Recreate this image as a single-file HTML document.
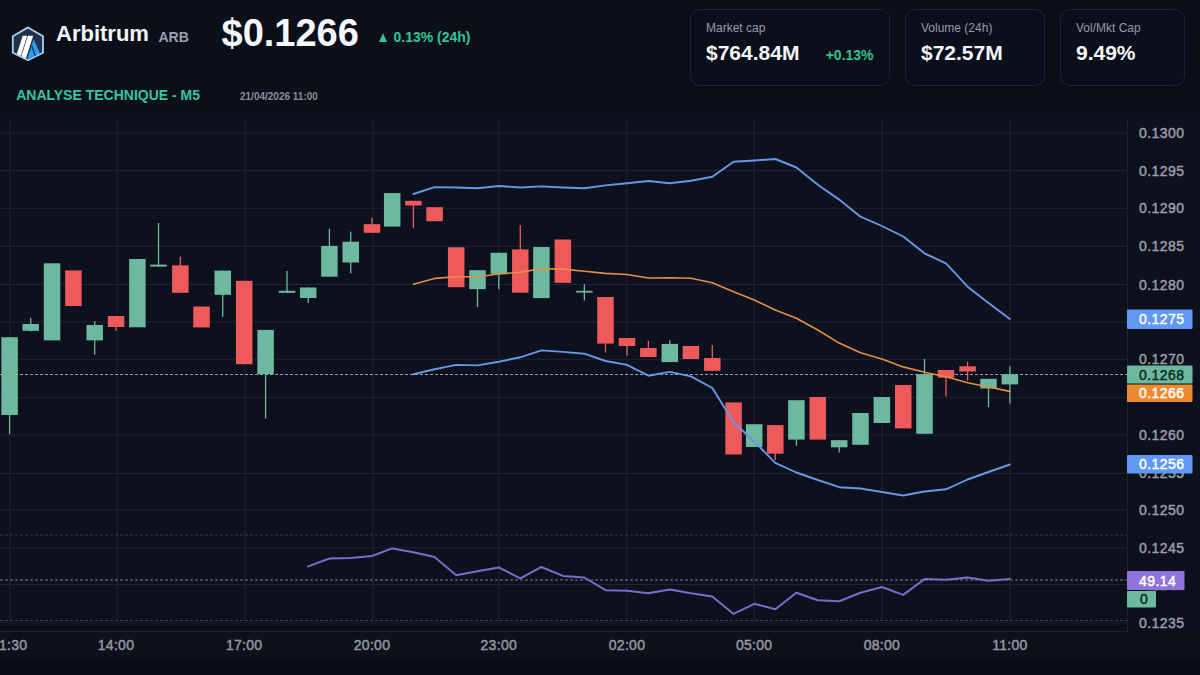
<!DOCTYPE html>
<html><head><meta charset="utf-8">
<style>
html,body{margin:0;padding:0;}
body{width:1200px;height:675px;overflow:hidden;background:#0a0f1a;position:relative;font-family:"Liberation Sans",sans-serif;}
.abs{position:absolute;white-space:nowrap;line-height:1;}
svg text.ax{font-family:"Liberation Sans",sans-serif;font-size:14px;fill:#9a9ea8;letter-spacing:0.45px;stroke:#9a9ea8;stroke-width:0.45px;}
svg text.tm{font-family:"Liberation Sans",sans-serif;font-size:14px;fill:#9599a3;letter-spacing:0.3px;stroke:#9599a3;stroke-width:0.45px;}
.card{position:absolute;top:9px;height:77px;border:1px solid #1f2533;border-radius:10px;box-sizing:border-box;background:#0b0f1b;}
.lbl{position:absolute;left:15px;top:11.1px;font-size:12px;color:#959aa5;}
.val{position:absolute;left:15px;top:31px;font-size:21px;font-weight:bold;color:#f4f6fa;}
</style></head><body>
<svg width="1200" height="675" style="position:absolute;left:0;top:0">
<rect x="0" y="112" width="1200" height="519.5" fill="#0c111d"/>
<rect x="0" y="631.5" width="1200" height="43.5" fill="#0c111c"/>
<rect x="0" y="659" width="1200" height="16" fill="#090d16"/>
<line x1="9.8" y1="119" x2="9.8" y2="621" stroke="#1f2533" stroke-width="1"/>
<line x1="117.2" y1="119" x2="117.2" y2="621" stroke="#1f2533" stroke-width="1"/>
<line x1="245" y1="119" x2="245" y2="621" stroke="#1f2533" stroke-width="1"/>
<line x1="372.8" y1="119" x2="372.8" y2="621" stroke="#1f2533" stroke-width="1"/>
<line x1="499" y1="119" x2="499" y2="621" stroke="#1f2533" stroke-width="1"/>
<line x1="626.8" y1="119" x2="626.8" y2="621" stroke="#1f2533" stroke-width="1"/>
<line x1="754.2" y1="119" x2="754.2" y2="621" stroke="#1f2533" stroke-width="1"/>
<line x1="881.9" y1="119" x2="881.9" y2="621" stroke="#1f2533" stroke-width="1"/>
<line x1="1010.1" y1="119" x2="1010.1" y2="621" stroke="#1f2533" stroke-width="1"/>
<line x1="0" y1="133.0" x2="1127.5" y2="133.0" stroke="#1f2533" stroke-width="1"/>
<line x1="0" y1="170.5" x2="1127.5" y2="170.5" stroke="#1f2533" stroke-width="1"/>
<line x1="0" y1="208.3" x2="1127.5" y2="208.3" stroke="#1f2533" stroke-width="1"/>
<line x1="0" y1="246.2" x2="1127.5" y2="246.2" stroke="#1f2533" stroke-width="1"/>
<line x1="0" y1="284.5" x2="1127.5" y2="284.5" stroke="#1f2533" stroke-width="1"/>
<line x1="0" y1="322.0" x2="1127.5" y2="322.0" stroke="#1f2533" stroke-width="1"/>
<line x1="0" y1="359.3" x2="1127.5" y2="359.3" stroke="#1f2533" stroke-width="1"/>
<line x1="0" y1="397.4" x2="1127.5" y2="397.4" stroke="#1f2533" stroke-width="1"/>
<line x1="0" y1="435.0" x2="1127.5" y2="435.0" stroke="#1f2533" stroke-width="1"/>
<line x1="0" y1="473.4" x2="1127.5" y2="473.4" stroke="#1f2533" stroke-width="1"/>
<line x1="0" y1="510.0" x2="1127.5" y2="510.0" stroke="#1f2533" stroke-width="1"/>
<line x1="0" y1="548.0" x2="1127.5" y2="548.0" stroke="#1f2533" stroke-width="1"/>
<line x1="0" y1="584.5" x2="1127.5" y2="584.5" stroke="#1f2533" stroke-width="1"/>
<line x1="0" y1="623.0" x2="1127.5" y2="623.0" stroke="#1f2533" stroke-width="1"/>
<rect x="0" y="623.5" width="1127.5" height="7.5" fill="#0a0e17"/>
<line x1="0" y1="535" x2="1127.5" y2="535" stroke="#343946" stroke-width="1" stroke-dasharray="3 2"/>
<line x1="0" y1="620.5" x2="1127.5" y2="620.5" stroke="#3c4150" stroke-width="1" stroke-dasharray="3 2"/>
<line x1="0" y1="580" x2="1127.5" y2="580" stroke="#77729f" stroke-width="1" stroke-dasharray="3 2"/>
<line x1="0" y1="374.5" x2="1127.5" y2="374.5" stroke="#95a3a6" stroke-width="1" stroke-dasharray="3 2"/>
<rect x="8.95" y="337.2" width="1.3" height="96.8" fill="#6cb9a0"/>
<rect x="1.35" y="337.2" width="16.5" height="77.8" fill="#6cb9a0"/>
<rect x="30.05" y="318.0" width="1.3" height="13.5" fill="#6cb9a0"/>
<rect x="22.45" y="324.0" width="16.5" height="6.8" fill="#6cb9a0"/>
<rect x="43.80" y="263.3" width="16.5" height="77.1" fill="#6cb9a0"/>
<rect x="65.15" y="270.4" width="16.5" height="35.6" fill="#ee5a5c"/>
<rect x="94.05" y="321.0" width="1.3" height="33.6" fill="#6cb9a0"/>
<rect x="86.45" y="325.0" width="16.5" height="15.4" fill="#6cb9a0"/>
<rect x="115.40" y="316.0" width="1.3" height="15.0" fill="#ee5a5c"/>
<rect x="107.80" y="316.0" width="16.5" height="11.0" fill="#ee5a5c"/>
<rect x="129.15" y="259.0" width="16.5" height="68.3" fill="#6cb9a0"/>
<rect x="157.85" y="223.0" width="1.3" height="43.6" fill="#6cb9a0"/>
<rect x="150.25" y="264.6" width="16.5" height="2.0" fill="#6cb9a0"/>
<rect x="179.70" y="256.6" width="1.3" height="36.2" fill="#ee5a5c"/>
<rect x="172.10" y="265.4" width="16.5" height="27.4" fill="#ee5a5c"/>
<rect x="193.30" y="306.5" width="16.5" height="20.9" fill="#ee5a5c"/>
<rect x="222.10" y="270.6" width="1.3" height="46.4" fill="#6cb9a0"/>
<rect x="214.50" y="270.6" width="16.5" height="24.2" fill="#6cb9a0"/>
<rect x="235.95" y="280.8" width="16.5" height="83.4" fill="#ee5a5c"/>
<rect x="264.95" y="329.9" width="1.3" height="88.7" fill="#6cb9a0"/>
<rect x="257.35" y="329.9" width="16.5" height="44.3" fill="#6cb9a0"/>
<rect x="286.35" y="271.0" width="1.3" height="21.8" fill="#6cb9a0"/>
<rect x="278.75" y="290.8" width="16.5" height="2.0" fill="#6cb9a0"/>
<rect x="307.55" y="287.5" width="1.3" height="15.5" fill="#6cb9a0"/>
<rect x="299.95" y="287.5" width="16.5" height="10.5" fill="#6cb9a0"/>
<rect x="328.75" y="228.6" width="1.3" height="48.1" fill="#6cb9a0"/>
<rect x="321.15" y="245.9" width="16.5" height="30.8" fill="#6cb9a0"/>
<rect x="350.10" y="231.7" width="1.3" height="41.6" fill="#6cb9a0"/>
<rect x="342.50" y="241.7" width="16.5" height="20.8" fill="#6cb9a0"/>
<rect x="371.35" y="217.5" width="1.3" height="15.3" fill="#ee5a5c"/>
<rect x="363.75" y="224.2" width="16.5" height="8.6" fill="#ee5a5c"/>
<rect x="383.95" y="193.1" width="16.5" height="33.5" fill="#6cb9a0"/>
<rect x="412.75" y="200.8" width="1.3" height="27.0" fill="#ee5a5c"/>
<rect x="405.15" y="200.8" width="16.5" height="4.7" fill="#ee5a5c"/>
<rect x="426.35" y="207.2" width="16.5" height="14.0" fill="#ee5a5c"/>
<rect x="447.95" y="247.3" width="16.5" height="39.9" fill="#ee5a5c"/>
<rect x="476.85" y="270.2" width="1.3" height="36.8" fill="#6cb9a0"/>
<rect x="469.25" y="270.2" width="16.5" height="19.0" fill="#6cb9a0"/>
<rect x="498.15" y="252.8" width="1.3" height="36.4" fill="#6cb9a0"/>
<rect x="490.55" y="252.8" width="16.5" height="21.1" fill="#6cb9a0"/>
<rect x="519.65" y="225.2" width="1.3" height="67.5" fill="#ee5a5c"/>
<rect x="512.05" y="249.4" width="16.5" height="43.3" fill="#ee5a5c"/>
<rect x="533.15" y="247.0" width="16.5" height="51.1" fill="#6cb9a0"/>
<rect x="554.60" y="239.5" width="16.5" height="43.3" fill="#ee5a5c"/>
<rect x="583.70" y="284.0" width="1.3" height="16.5" fill="#6cb9a0"/>
<rect x="576.10" y="290.8" width="16.5" height="1.8" fill="#6cb9a0"/>
<rect x="604.85" y="297.0" width="1.3" height="55.5" fill="#ee5a5c"/>
<rect x="597.25" y="297.0" width="16.5" height="46.6" fill="#ee5a5c"/>
<rect x="626.35" y="338.0" width="1.3" height="17.7" fill="#ee5a5c"/>
<rect x="618.75" y="338.0" width="16.5" height="8.0" fill="#ee5a5c"/>
<rect x="647.70" y="340.8" width="1.3" height="16.2" fill="#ee5a5c"/>
<rect x="640.10" y="348.0" width="16.5" height="9.0" fill="#ee5a5c"/>
<rect x="669.15" y="340.3" width="1.3" height="21.8" fill="#6cb9a0"/>
<rect x="661.55" y="343.9" width="16.5" height="18.2" fill="#6cb9a0"/>
<rect x="682.65" y="346.0" width="16.5" height="13.0" fill="#ee5a5c"/>
<rect x="711.65" y="345.0" width="1.3" height="25.8" fill="#ee5a5c"/>
<rect x="704.05" y="358.0" width="16.5" height="12.8" fill="#ee5a5c"/>
<rect x="725.35" y="402.4" width="16.5" height="52.1" fill="#ee5a5c"/>
<rect x="745.95" y="424.2" width="16.5" height="22.8" fill="#6cb9a0"/>
<rect x="774.65" y="425.1" width="1.3" height="34.9" fill="#ee5a5c"/>
<rect x="767.05" y="425.1" width="16.5" height="28.6" fill="#ee5a5c"/>
<rect x="795.75" y="400.2" width="1.3" height="45.6" fill="#6cb9a0"/>
<rect x="788.15" y="400.2" width="16.5" height="39.4" fill="#6cb9a0"/>
<rect x="809.55" y="397.0" width="16.5" height="42.6" fill="#ee5a5c"/>
<rect x="838.55" y="440.2" width="1.3" height="12.3" fill="#6cb9a0"/>
<rect x="830.95" y="440.2" width="16.5" height="7.1" fill="#6cb9a0"/>
<rect x="852.25" y="413.0" width="16.5" height="31.8" fill="#6cb9a0"/>
<rect x="873.65" y="397.0" width="16.5" height="26.0" fill="#6cb9a0"/>
<rect x="895.00" y="385.0" width="16.5" height="43.4" fill="#ee5a5c"/>
<rect x="923.85" y="359.0" width="1.3" height="74.8" fill="#6cb9a0"/>
<rect x="916.25" y="374.2" width="16.5" height="59.6" fill="#6cb9a0"/>
<rect x="945.35" y="370.0" width="1.3" height="26.4" fill="#ee5a5c"/>
<rect x="937.75" y="370.0" width="16.5" height="7.7" fill="#ee5a5c"/>
<rect x="966.95" y="361.5" width="1.3" height="19.3" fill="#ee5a5c"/>
<rect x="959.35" y="366.3" width="16.5" height="5.2" fill="#ee5a5c"/>
<rect x="987.85" y="378.8" width="1.3" height="28.4" fill="#6cb9a0"/>
<rect x="980.25" y="378.8" width="16.5" height="9.7" fill="#6cb9a0"/>
<rect x="1009.25" y="366.3" width="1.3" height="37.4" fill="#6cb9a0"/>
<rect x="1001.65" y="374.2" width="16.5" height="10.2" fill="#6cb9a0"/>
<polyline points="413.4,194.0 434.6,187.1 456.2,187.5 477.5,188.2 498.8,186.0 520.3,187.5 541.4,186.4 562.9,187.5 584.4,188.2 605.5,185.4 627.0,183.2 648.4,181.0 669.8,183.3 690.9,180.7 712.3,176.7 733.6,161.7 754.2,160.5 775.3,159.0 796.4,167.5 817.8,184.8 839.2,199.6 860.5,216.7 881.9,226.0 903.2,236.5 924.5,253.3 946.0,263.3 967.6,286.7 988.5,303.0 1009.9,319.0" fill="none" stroke="#6797e6" stroke-width="1.9" stroke-linejoin="round" stroke-linecap="round"/>
<polyline points="413.4,284.3 434.6,278.4 456.2,276.7 477.5,276.7 498.8,274.0 520.3,272.3 541.4,268.7 562.9,269.1 584.4,271.3 605.5,273.4 627.0,274.5 648.4,278.0 669.8,277.7 690.9,278.3 712.3,282.7 733.6,291.7 754.2,300.0 775.3,310.0 796.4,318.2 817.8,330.0 839.2,343.1 860.5,352.8 881.9,358.9 903.2,366.9 924.5,372.3 946.0,376.7 967.6,382.7 988.5,387.0 1009.9,391.4" fill="none" stroke="#e28f45" stroke-width="1.6" stroke-linejoin="round" stroke-linecap="round"/>
<polyline points="413.4,374.2 434.6,369.3 456.2,364.9 477.5,365.4 498.8,361.7 520.3,357.3 541.4,350.4 562.9,351.9 584.4,353.7 605.5,361.0 627.0,364.9 648.4,375.7 669.8,371.9 690.9,376.4 712.3,388.0 733.6,422.3 754.2,441.5 775.3,462.8 796.4,472.5 817.8,480.0 839.2,487.2 860.5,488.5 881.9,492.0 903.2,495.5 924.5,491.5 946.0,489.3 967.6,479.5 988.5,472.0 1009.9,464.5" fill="none" stroke="#6797e6" stroke-width="1.9" stroke-linejoin="round" stroke-linecap="round"/>
<polyline points="308.2,566.4 329.4,558.5 350.8,557.9 372.0,556.0 392.2,548.4 413.4,552.2 434.6,556.9 456.2,575.3 477.5,571.2 498.8,567.4 520.3,578.4 541.4,567.0 562.9,575.9 584.4,577.5 605.5,590.2 627.0,590.8 648.4,593.3 669.8,589.5 690.9,593.3 712.3,596.5 733.6,613.9 754.2,603.8 775.3,609.2 796.4,592.7 817.8,600.3 839.2,601.2 860.5,592.7 881.9,587.0 903.2,594.9 924.5,579.1 946.0,579.7 967.6,577.5 988.5,580.7 1009.9,579.1" fill="none" stroke="#7b6bcb" stroke-width="2" stroke-linejoin="round" stroke-linecap="round"/>
<line x1="1127.5" y1="119" x2="1127.5" y2="631.5" stroke="#1b202c" stroke-width="1"/>
<line x1="0" y1="631.5" x2="1127.5" y2="631.5" stroke="#1e2330" stroke-width="1.2"/>
<text x="1139" y="138.0" class="ax">0.1300</text>
<text x="1139" y="175.5" class="ax">0.1295</text>
<text x="1139" y="213.3" class="ax">0.1290</text>
<text x="1139" y="251.2" class="ax">0.1285</text>
<text x="1139" y="289.5" class="ax">0.1280</text>
<text x="1139" y="327.0" class="ax">0.1275</text>
<text x="1139" y="364.3" class="ax">0.1270</text>
<text x="1139" y="440.0" class="ax">0.1260</text>
<text x="1139" y="478.4" class="ax">0.1255</text>
<text x="1139" y="515.0" class="ax">0.1250</text>
<text x="1139" y="553.0" class="ax">0.1245</text>
<text x="1139" y="589.5" class="ax">0.1240</text>
<text x="1139" y="628.0" class="ax">0.1235</text>
<rect x="1127" y="309.5" width="65.5" height="19.5" fill="#6098f4" rx="1"/><text x="1139" y="324.2" class="ax" style="fill:#ffffff;stroke:#ffffff">0.1275</text>
<rect x="1127" y="365.5" width="65.5" height="18.0" fill="#6cb9a0" rx="1"/><text x="1139" y="379.5" class="ax" style="fill:#0d2a20;stroke:#0d2a20">0.1268</text>
<rect x="1127" y="384.5" width="65.5" height="17.5" fill="#ee8a2e" rx="1"/><text x="1139" y="398.2" class="ax" style="fill:#ffffff;stroke:#ffffff">0.1266</text>
<rect x="1127" y="455" width="65.5" height="18.5" fill="#6098f4" rx="1"/><text x="1139" y="469.2" class="ax" style="fill:#ffffff;stroke:#ffffff">0.1256</text>
<rect x="1127" y="571" width="57.5" height="19" fill="#8f73d8" rx="1"/><text x="1139" y="585.5" class="ax" style="fill:#ffffff;stroke:#ffffff">49.14</text>
<rect x="1127" y="591" width="29" height="16.5" fill="#6cb9a0" rx="1"/><text x="1140" y="604.2" class="ax" style="fill:#0d2a20;stroke:#0d2a20">0</text>
<text x="9.6" y="650.2" class="tm" text-anchor="middle">11:30</text>
<text x="116.0" y="650.2" class="tm" text-anchor="middle">14:00</text>
<text x="244.2" y="650.2" class="tm" text-anchor="middle">17:00</text>
<text x="372.0" y="650.2" class="tm" text-anchor="middle">20:00</text>
<text x="498.8" y="650.2" class="tm" text-anchor="middle">23:00</text>
<text x="627.0" y="650.2" class="tm" text-anchor="middle">02:00</text>
<text x="754.2" y="650.2" class="tm" text-anchor="middle">05:00</text>
<text x="881.9" y="650.2" class="tm" text-anchor="middle">08:00</text>
<text x="1009.9" y="650.2" class="tm" text-anchor="middle">11:00</text>
</svg>
<svg width="40" height="40" viewBox="0 0 40 40" style="position:absolute;left:8px;top:23.5px">
<defs><clipPath id="hx"><polygon points="20,4.2 34.2,12.7 34.2,28.3 20,35.4 5.6,28.3 5.6,12.7"/></clipPath></defs>
<polygon points="20,3.4 35,12.3 35,28.7 20,36.2 4.8,28.7 4.8,12.3" fill="#223147" stroke="#a5d2f0" stroke-width="1.8" stroke-linejoin="round"/>
<g clip-path="url(#hx)">
<polygon points="14.7,11.8 19.2,11.8 11.2,36.8 6.7,36.8" fill="#ffffff"/>
<polygon points="19.9,11.8 25.2,11.8 17.2,36.8 11.9,36.8" fill="#ffffff"/>
<polygon points="25.6,15.2 34,33.5 22,40 17.6,40 18.6,37.5" fill="#28a0f0"/>
<line x1="23.6" y1="21.5" x2="28.8" y2="36" stroke="#223147" stroke-width="1.3"/>
</g>
</svg>
<div class="abs" style="left:56px;top:23.2px;font-size:22px;font-weight:bold;color:#f4f6fa;">Arbitrum</div>
<div class="abs" style="left:158.5px;top:30px;font-size:14px;font-weight:bold;color:#9aa0ae;">ARB</div>
<div class="abs" style="left:221.5px;top:13.8px;font-size:38px;font-weight:bold;color:#f6f7fa;">$0.1266</div>
<div class="abs" style="left:393.5px;top:29.6px;font-size:14px;font-weight:bold;color:#33c497;">0.13% (24h)</div><div class="abs" style="left:378.7px;top:32.8px;width:0;height:0;border-left:4.6px solid transparent;border-right:4.6px solid transparent;border-bottom:9.2px solid #33c497;"></div>
<div class="abs" style="left:16.2px;top:87.5px;font-size:14px;font-weight:bold;color:#35c6a3;">ANALYSE TECHNIQUE - M5</div>
<div class="abs" style="left:240px;top:91.5px;font-size:10px;font-weight:bold;color:#8a8e98;">21/04/2026 11:00</div>
<div class="card" style="left:690px;width:200px;"><div class="lbl">Market cap</div><div class="val">$764.84M</div><div class="abs" style="left:134.7px;top:37.9px;font-size:14px;font-weight:bold;color:#35c28f;">+0.13%</div></div>
<div class="card" style="left:905px;width:140px;"><div class="lbl">Volume (24h)</div><div class="val">$72.57M</div></div>
<div class="card" style="left:1060px;width:125px;"><div class="lbl">Vol/Mkt Cap</div><div class="val">9.49%</div></div>
</body></html>
